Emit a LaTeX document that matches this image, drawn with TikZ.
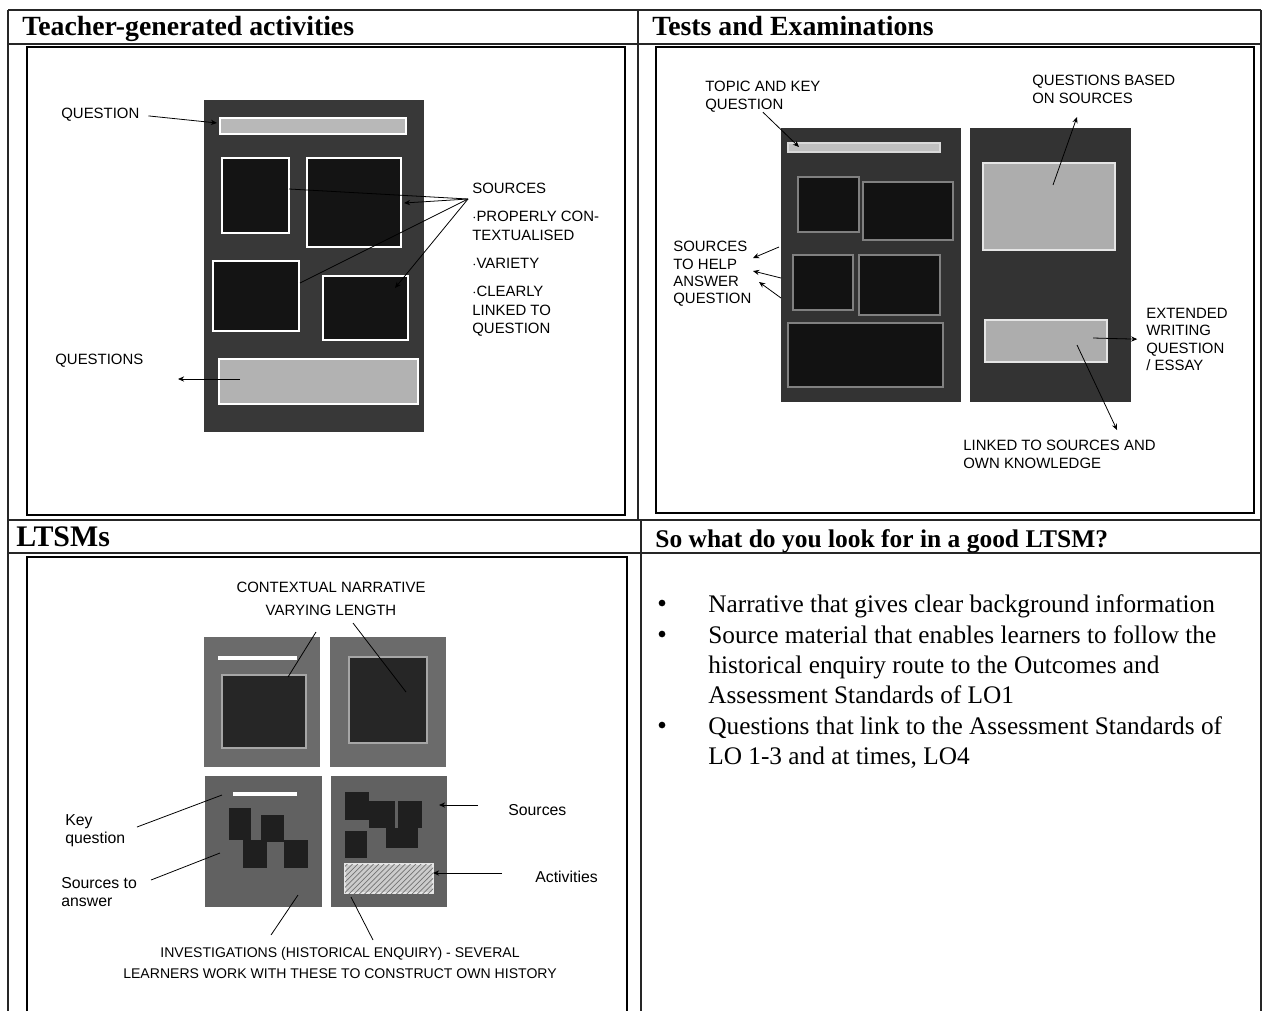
\documentclass[tikz,border=0pt]{standalone}
\usepackage{fontspec}
\setmainfont{Liberation Serif}
\newfontfamily\handfont{Liberation Sans}
\usetikzlibrary{arrows.meta, positioning, patterns}

\begin{document}
\begin{tikzpicture}[x=0.02cm, y=-0.02cm,
    grid/.style={line width=0.6pt, draw=black!85},
    panel/.style={draw, line width=1.2pt},
    head/.style={anchor=base west, inner sep=0pt, font=\bfseries\fontsize{15.8}{18}\selectfont},
    hand/.style={inner sep=0pt, align=left, font=\handfont\fontsize{8.5}{9.8}\selectfont},
    ptr/.style={-{Stealth[length=3.5pt, width=3pt]}, line width=0.45pt},
    wire/.style={line width=0.45pt},
    dotmark/.style={circle, fill, inner sep=0pt, minimum size=3.8pt},
    bodytext/.style={anchor=north west, inner sep=0pt, align=left, font=\fontsize{14.4}{17.2}\selectfont}]
  \useasboundingbox (0,0) rectangle (1263,1011);

  % table rules
  \draw[grid] (8,10) -- (1261,10);
  \draw[grid] (8,44) -- (1261,44);
  \draw[grid] (8,520) -- (1261,520);
  \draw[grid] (8,553) -- (1261,553);
  \draw[grid] (8,10) -- (8,1011);
  \draw[grid] (1261,10) -- (1261,1011);
  \draw[grid] (638,10) -- (638,520);
  \draw[grid] (641,520) -- (641,1011);

  \node[head] (teacherhead) at (22,35) {Teacher-generated activities};
  \node[head] (testhead) at (652,35) {Tests and Examinations};
  \node[head, font=\bfseries\fontsize{17}{19}\selectfont] (ltsmhead) at (16,546) {LTSMs};
  \node[head, font=\bfseries\fontsize{14.5}{17}\selectfont] (lookhead) at (655,547)
    {So what do you look for in a good LTSM?};

  \draw[panel] (27,47) rectangle (625,515);
  \draw[panel] (656,47) rectangle (1254,513);
  \draw[panel] (27,1011) -- (27,557) -- (627,557) -- (627,1011);

  % teacher-generated page
  \fill[black!78] (204,100) rectangle (424,432);
  \draw[white, fill=black!28, line width=0.8pt] (220,118) rectangle (406,134);
  \draw[white, fill=black!92, line width=0.8pt] (222,158) rectangle (289,233);
  \draw[white, fill=black!92, line width=0.8pt] (307,158) rectangle (401,247);
  \draw[white, fill=black!92, line width=0.8pt] (213,261) rectangle (299,331);
  \draw[white, fill=black!92, line width=0.8pt] (323,276) rectangle (408,340);
  \draw[white, fill=black!30, line width=0.8pt] (219,359) rectangle (418,404);

  \node[hand, anchor=west] (question) at (61,115) {QUESTION};
  \node[hand, anchor=west] (questions) at (55,361) {QUESTIONS};
  \node[hand, anchor=north west, font=\handfont\fontsize{8.5}{10.8}\selectfont] (sources) at (472,183)
    {SOURCES\\[5pt] $\cdot$PROPERLY CON-\\TEXTUALISED\\[5pt] $\cdot$VARIETY\\[5pt] $\cdot$CLEARLY\\LINKED TO\\QUESTION};
  \coordinate (qbar) at (217,123);
  \coordinate (fan) at (468,199);
  \coordinate (src1) at (289,189);
  \coordinate (src2) at (404,203);
  \coordinate (src3) at (300,283);
  \coordinate (src4) at (395,288);
  \coordinate (qsin) at (240,379);
  \coordinate (qsend) at (178,379);

  \draw[ptr, shorten <=5pt] (question.east) -- (qbar);
  \draw[wire] (fan) -- (src1);
  \draw[ptr] (fan) -- (src2);
  \draw[wire] (fan) -- (src3);
  \draw[ptr] (fan) -- (src4);
  \draw[ptr] (qsin) -- (qsend);

  % test pages
  \fill[black!80] (781,128) rectangle (961,402);
  \fill[black!80] (970,128) rectangle (1131,402);
  \draw[black!15, fill=black!25, line width=0.8pt] (788,143) rectangle (940,152);
  \draw[black!50, fill=black!93, line width=1.5pt] (798,177) rectangle (859,232);
  \draw[black!50, fill=black!93, line width=1.5pt] (863,182) rectangle (953,240);
  \draw[black!50, fill=black!93, line width=1.5pt] (793,255) rectangle (853,310);
  \draw[black!50, fill=black!93, line width=1.5pt] (859,255) rectangle (940,315);
  \draw[black!50, fill=black!93, line width=1.5pt] (788,323) rectangle (943,387);
  \draw[black!10, fill=black!32, line width=0.8pt] (983,163) rectangle (1115,250);
  \draw[black!10, fill=black!32, line width=0.8pt] (985,320) rectangle (1107,362);

  \node[hand, anchor=north west] (topic) at (705,81) {TOPIC AND KEY\\QUESTION};
  \node[hand, anchor=north west] (qbased) at (1032,75) {QUESTIONS BASED\\ON SOURCES};
  \node[hand, anchor=north west] (helpsrc) at (673,241) {SOURCES\\TO HELP\\ANSWER\\QUESTION};
  \node[hand, anchor=north west] (extended) at (1146,308) {EXTENDED\\WRITING\\QUESTION\\/ ESSAY};
  \node[hand, anchor=north west] (linked) at (963,440) {LINKED TO SOURCES AND\\OWN KNOWLEDGE};
  \coordinate (keybar) at (799,147);
  \coordinate (qbsrc) at (1053,185);
  \coordinate (qbtip) at (1077,117);
  \coordinate (hs1) at (779,247);
  \coordinate (hs2) at (781,278);
  \coordinate (hs3) at (781,298);
  \coordinate (ht1) at (753,258);
  \coordinate (ht2) at (753,271);
  \coordinate (ht3) at (759,282);
  \coordinate (essay) at (1093,338);
  \coordinate (essayin) at (1077,345);
  \coordinate (lktip) at (1117,430);

  \draw[ptr] (topic.south) -- (keybar);
  \draw[ptr] (qbsrc) -- (qbtip);
  \draw[ptr] (hs1) -- (ht1);
  \draw[ptr] (hs2) -- (ht2);
  \draw[ptr] (hs3) -- (ht3);
  \draw[ptr, shorten >=5pt] (essay) -- (extended.west);
  \draw[ptr] (essayin) -- (lktip);

  % LTSM pages
  \fill[black!58] (204,637) rectangle (320,767);
  \fill[black!58] (330,637) rectangle (446,767);
  \fill[black!62] (205,776) rectangle (322,907);
  \fill[black!62] (331,776) rectangle (447,907);
  \fill[white] (218,656) rectangle (297,660);
  \draw[black!35, fill=black!85, line width=1.5pt] (222,675) rectangle (306,748);
  \draw[black!35, fill=black!85, line width=1.5pt] (349,657) rectangle (427,743);
  \fill[white] (233,792) rectangle (297,796);
  \fill[black!88] (229,808) rectangle (251,840);
  \fill[black!88] (261,815) rectangle (284,842);
  \fill[black!88] (243,840) rectangle (267,868);
  \fill[black!88] (284,840) rectangle (308,868);
  \fill[black!88] (345,792) rectangle (369,820);
  \fill[black!88] (369,801) rectangle (395,828);
  \fill[black!88] (398,801) rectangle (422,828);
  \fill[black!88] (386,828) rectangle (418,848);
  \fill[black!88] (345,831) rectangle (367,858);
  \draw[black!10, fill=black!20, line width=0.8pt] (345,864) rectangle (433,893);
  \fill[pattern=north east lines, pattern color=black!55] (345,864) rectangle (433,893);

  \node[hand] (narr) at (331,587) {CONTEXTUAL NARRATIVE};
  \node[hand] (varying) at (331,610) {VARYING LENGTH};
  \node[hand, anchor=north west, font=\handfont\fontsize{9}{10.5}\selectfont] (keyq) at (65,814) {Key\\question};
  \node[hand, anchor=north west, font=\handfont\fontsize{9}{10.5}\selectfont] (srcans) at (61,877) {Sources to\\answer};
  \node[hand, anchor=west, font=\handfont\fontsize{9}{10.5}\selectfont] (srclbl) at (508,810) {Sources};
  \node[hand, anchor=west, font=\handfont\fontsize{9}{10.5}\selectfont] (actlbl) at (535,877) {Activities};
  \node[hand, align=center, font=\handfont\fontsize{8}{12}\selectfont] (invest) at (340,963)
    {INVESTIGATIONS (HISTORICAL ENQUIRY) - SEVERAL\\LEARNERS WORK WITH THESE TO CONSTRUCT OWN HISTORY};
  \coordinate (nv1) at (316,632);
  \coordinate (nv2) at (353,623);
  \coordinate (nb1) at (288,677);
  \coordinate (nb2) at (406,692);
  \coordinate (kqa) at (137,827);
  \coordinate (kqb) at (222,795);
  \coordinate (saa) at (151,880);
  \coordinate (sab) at (220,853);
  \coordinate (sla) at (478,805);
  \coordinate (slb) at (439,805);
  \coordinate (ala) at (502,873);
  \coordinate (alb) at (433,873);
  \coordinate (iv1) at (271,935);
  \coordinate (iv2) at (373,940);
  \coordinate (ip1) at (298,895);
  \coordinate (ip2) at (351,897);

  \draw[wire] (nv1) -- (nb1);
  \draw[wire] (nv2) -- (nb2);
  \draw[wire] (kqa) -- (kqb);
  \draw[wire] (saa) -- (sab);
  \draw[ptr] (sla) -- (slb);
  \draw[ptr] (ala) -- (alb);
  \draw[wire] (iv1) -- (ip1);
  \draw[wire] (iv2) -- (ip2);

  % what to look for
  \node[dotmark] (dot1) at (662,603) {};
  \node[dotmark] (dot2) at (662,634) {};
  \node[dotmark] (dot3) at (662,725) {};
  \node[bodytext] (item1) at (708,594) {Narrative that gives clear background information};
  \node[bodytext] (item2) at (708,625) {Source material that enables learners to follow the\\historical enquiry route to the Outcomes and\\Assessment Standards of LO1};
  \node[bodytext] (item3) at (708,716) {Questions that link to the Assessment Standards of\\LO 1-3 and at times, LO4};
\end{tikzpicture}
\end{document}
